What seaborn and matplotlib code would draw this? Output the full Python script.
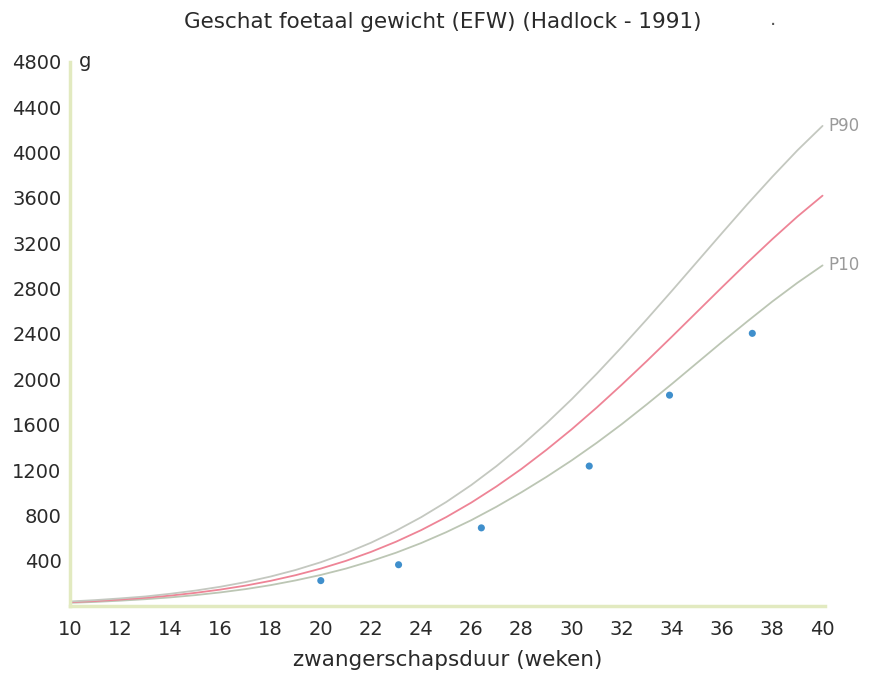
import pandas as pd
import numpy as np
import matplotlib
matplotlib.use("Agg")
import matplotlib.pyplot as plt
import seaborn as sns

# Hadlock curves (weeks 10-40)
weeks = list(range(10, 41))
p50 = [35, 45, 58, 73, 93, 117, 146, 181, 223, 273, 331, 399, 478, 568, 670, 785,
       913, 1055, 1210, 1379, 1559, 1751, 1953, 2162, 2377, 2595, 2813, 3028, 3236, 3435, 3619]
p10 = [29, 37, 48, 61, 77, 97, 121, 150, 185, 227, 275, 331, 397, 471, 556, 652,
       758, 876, 1004, 1140, 1285, 1440, 1605, 1780, 1960, 2145, 2330, 2510, 2686, 2851, 3004]
p90 = [41, 53, 68, 85, 109, 137, 171, 212, 261, 319, 387, 467, 559, 665, 784, 918,
       1068, 1234, 1416, 1613, 1824, 2049, 2285, 2530, 2781, 3036, 3291, 3543, 3786, 4019, 4234]

# measurements
meas_weeks = [20.0, 23.1, 26.4, 30.7, 33.9, 37.2]
meas_weight = [225, 365, 690, 1235, 1860, 2405]

xticks = list(range(10, 41, 2))
yticks = list(range(400, 4801, 400))

curves = pd.DataFrame({
    "week": weeks * 3,
    "weight": p10 + p50 + p90,
    "curve": ["P10"] * len(weeks) + ["P50"] * len(weeks) + ["P90"] * len(weeks),
})
points = pd.DataFrame({"week": meas_weeks, "weight": meas_weight})

sns.set_style("white")
plt.rcParams["font.family"] = ["DejaVu Sans"]

fig = plt.figure(figsize=(8.74, 6.78), dpi=100)
ax = fig.add_axes([0.080, 0.106, 0.864, 0.803])

palette = {"P10": "#bcc6b4", "P50": "#ee8496", "P90": "#c4c8c0"}
sns.lineplot(data=curves, x="week", y="weight", hue="curve", palette=palette,
             linewidth=1.3, legend=False, ax=ax)
sns.scatterplot(data=points, x="week", y="weight", color="#3f8fcc", s=26,
                edgecolor="none", ax=ax, zorder=5)

ax.text(40.25, p90[-1], "P90", color="#9a9a9a", fontsize=12, va="center", ha="left")
ax.text(40.25, p10[-1], "P10", color="#9a9a9a", fontsize=12, va="center", ha="left")

ax.set_xlim(10, 40.1)
ax.set_ylim(0, 4800)
ax.set_xticks(xticks)
ax.set_yticks(yticks)
ax.tick_params(axis="x", length=0, labelsize=14, labelcolor="#2a2a2a", pad=10)
ax.tick_params(axis="y", length=0, labelsize=14, labelcolor="#2a2a2a", pad=6)
ax.text(10.35, 4800, "g", fontsize=14, color="#2a2a2a", va="center", ha="left")

for s in ["top", "right"]:
    ax.spines[s].set_color("none")
for s in ["left", "bottom"]:
    ax.spines[s].set_color("#e2eac0")
    ax.spines[s].set_linewidth(2.5)

ax.set_xlabel("zwangerschapsduur (weken)", fontsize=15.5, color="#2a2a2a", labelpad=8)
ax.set_ylabel("")
fig.text(0.507, 0.967, "Geschat foetaal gewicht (EFW) (Hadlock - 1991)",
         fontsize=15.5, color="#2a2a2a", ha="center", va="center")
fig.text(0.884, 0.962, "·", fontsize=14, color="#555555", ha="center", va="center")

plt.savefig("out.png", dpi=100)
